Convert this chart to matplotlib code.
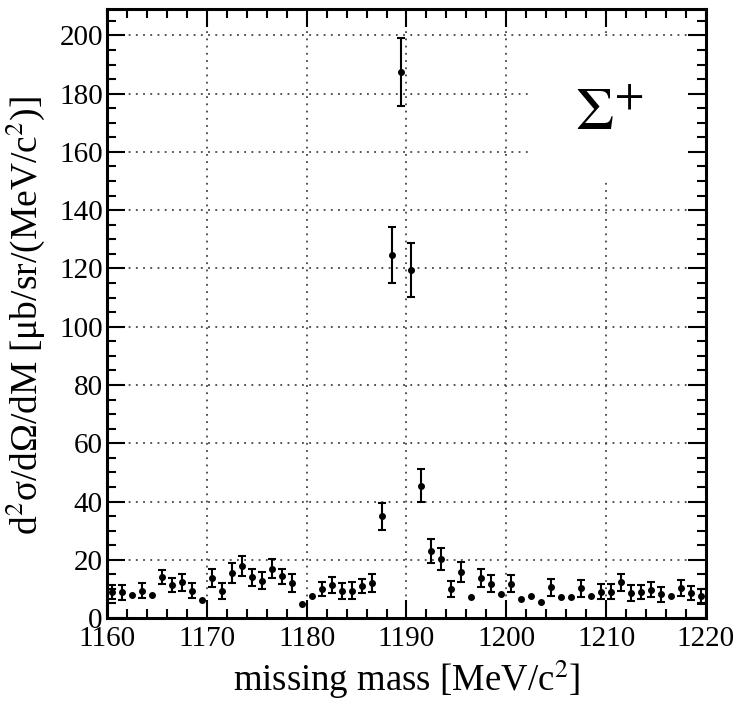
import numpy as np
import matplotlib
matplotlib.use("Agg")
import matplotlib.pyplot as plt
from matplotlib.patches import Rectangle

plt.rcParams['font.family'] = ['Liberation Serif', 'DejaVu Serif']
plt.rcParams['mathtext.fontset'] = 'stix'

# bin centres [MeV/c^2], cross section and errors
mass = np.arange(1160.5, 1220.0, 1.0)
xsec = [8.8, 8.8, 7.9, 9.4, 7.9, 14.2, 11.3, 12.2, 9.4, 6.3,
        13.6, 9.4, 15.4, 17.9, 14.0, 12.8, 17.0, 14.3, 12.0, 4.8,
        7.7, 9.9, 11.3, 9.4, 9.4, 10.9, 12.0, 34.9, 124.5, 187.4,
        119.5, 45.4, 23.1, 20.3, 9.9, 15.9, 7.1, 13.6, 11.7, 8.2,
        11.7, 6.5, 7.4, 5.4, 10.5, 7.1, 7.1, 10.2, 7.7, 9.0,
        9.0, 12.2, 8.6, 9.0, 9.7, 8.2, 7.7, 10.2, 8.6, 7.4]
err = [2.4, 2.6, 0, 2.5, 0, 2.4, 2.3, 3.0, 2.6, 0,
       3.1, 2.7, 3.4, 3.5, 2.9, 2.9, 3.1, 2.7, 3.0, 0,
       0, 2.5, 2.7, 2.7, 3.0, 2.4, 3.0, 4.6, 9.6, 11.8,
       9.4, 5.7, 4.2, 3.9, 2.7, 3.4, 0, 3.1, 2.9, 0,
       2.9, 0, 0, 0, 2.9, 0, 0, 2.9, 0, 2.6,
       2.6, 2.9, 2.6, 2.5, 2.6, 2.6, 0, 2.8, 2.5, 2.5]

xticks = [1160, 1170, 1180, 1190, 1200, 1210, 1220]
yticks = [0, 20, 40, 60, 80, 100, 120, 140, 160, 180, 200]

xsec = np.array(xsec)
err = np.array(err)
has_err = err > 0

fig = plt.figure(figsize=(7.4, 7.06), dpi=100)
ax = fig.add_axes([0.1446, 0.1246, 0.8094, 0.8624])

# dotted grid
gstyle = dict(colors='#444444', linestyles=(0, (1, 3)), linewidth=1.3, zorder=0.5)
ax.hlines(yticks[1:], 1160, 1220, **gstyle)
ax.vlines(xticks[1:-1], 0, 209, **gstyle)

# white label box
ax.add_patch(Rectangle((1202.7, 151), 17.3, 48, facecolor='white',
                       edgecolor='none', zorder=0.7))
ax.text(1210.3, 172.6, r'$\Sigma^{+}$', fontsize=44, ha='center', va='center',
        zorder=1)

ax.errorbar(mass[has_err], xsec[has_err], yerr=err[has_err], fmt='none',
            ecolor='black', elinewidth=1.5, capsize=2.8, capthick=1.5, zorder=3)
ax.plot(mass, xsec, 'o', color='black', markersize=4, zorder=4)

ax.set_xlim(1160, 1220)
ax.set_ylim(0, 209)
ax.set_xticks(xticks)
ax.set_yticks(yticks)
ax.set_xticks(np.arange(1160, 1221, 2), minor=True)
ax.set_yticks(np.arange(0, 209, 5), minor=True)
ax.tick_params(which='both', direction='in', top=True, right=True,
               width=1.5, labelsize=21)
ax.tick_params(which='major', length=13)
ax.tick_params(which='minor', length=6.5)
ax.tick_params(axis='x', pad=6)
ax.tick_params(axis='y', pad=3)
for s in ax.spines.values():
    s.set_linewidth(2.2)

ax.set_xlabel('missing mass [MeV/c$^2$]', fontsize=26.5)
ax.xaxis.set_label_coords(0.5, -0.066)
ax.set_ylabel('d$^2$σ/dΩ/dM [μb/sr/(MeV/c$^2$)]', fontsize=27)
ax.yaxis.set_label_coords(-0.1, 0.496)

fig.savefig('out.png', dpi=100)
